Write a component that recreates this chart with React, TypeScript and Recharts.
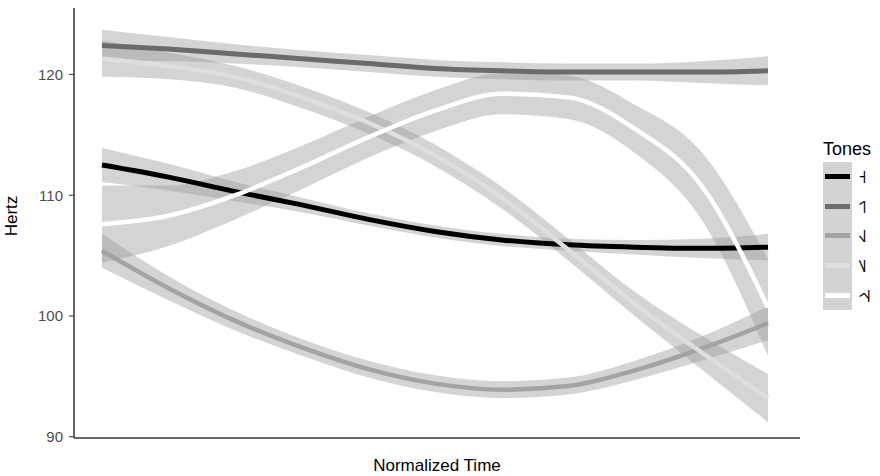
import { ComposedChart, Area, Line, XAxis, YAxis } from "recharts";

// normalized time steps
const TIME = [0, 0.1, 0.2, 0.3, 0.4, 0.5, 0.6, 0.7, 0.8, 0.9, 1];

const TONE_LABELS = ["˧", "˦˥", "˧˩", "˥˩", "˧˦˨"];
const TONE_COLORS = ["#000000", "#6b6b6b", "#a3a3a3", "#dedede", "#ffffff"];

// smoothed means (Hz) and half-widths of the confidence band
const TONE1 = [112.5, 111.5, 110.3, 109.2, 108.0, 107.0, 106.3, 105.9, 105.7, 105.6, 105.7];
const TONE1_SE = [1.4, 1.1, 0.8, 0.6, 0.5, 0.5, 0.5, 0.5, 0.6, 0.8, 1.1];
const TONE2 = [122.4, 122.1, 121.7, 121.3, 120.9, 120.5, 120.3, 120.2, 120.2, 120.2, 120.3];
const TONE2_SE = [1.3, 1.0, 0.8, 0.7, 0.7, 0.7, 0.7, 0.7, 0.7, 0.9, 1.2];
const TONE3 = [105.4, 102.3, 99.6, 97.4, 95.6, 94.4, 93.9, 94.2, 95.5, 97.3, 99.4];
const TONE3_SE = [1.4, 1.0, 0.8, 0.7, 0.7, 0.7, 0.7, 0.7, 0.8, 1.0, 1.4];
const TONE4 = [121.3, 120.7, 119.8, 118.1, 116.0, 113.3, 109.8, 105.5, 101.0, 97.0, 93.2];
const TONE4_SE = [1.5, 1.1, 0.9, 0.9, 0.9, 0.9, 0.9, 0.9, 1.0, 1.4, 2.0];
const TONE5 = [107.6, 108.3, 110.0, 112.3, 114.8, 117.0, 118.4, 118.1, 115.5, 110.8, 100.7];
const TONE5_SE = [3.2, 2.5, 2.0, 1.8, 1.7, 1.7, 1.7, 1.8, 2.0, 2.8, 4.0];

const Y_TICKS = [90, 100, 110, 120];

const MEANS = [TONE1, TONE2, TONE3, TONE4, TONE5];
const SES = [TONE1_SE, TONE2_SE, TONE3_SE, TONE4_SE, TONE5_SE];

const data = TIME.map((t, i) => {
  const row: any = { t };
  MEANS.forEach((m, k) => {
    row["m" + k] = m[i];
    row["b" + k] = [m[i] - SES[k][i], m[i] + SES[k][i]];
  });
  return row;
});

const FONT = "'Liberation Sans', Arial, sans-serif";

function ToneLegend() {
  return (
    <div style={{ position: "absolute", left: 823, top: 138, fontFamily: FONT, color: "#000" }}>
      <div style={{ fontSize: 18, height: 24, lineHeight: "22px" }}>Tones</div>
      <div style={{ position: "relative" }}>
        <div style={{ position: "absolute", left: 0, top: 0, width: 29, height: 148, background: "#d3d3d3" }} />
        {TONE_LABELS.map((label, k) => (
          <div key={label} style={{ position: "relative", height: 29.6, display: "flex", alignItems: "center" }}>
            <div style={{ width: 25, height: 5, marginLeft: 2, background: TONE_COLORS[k] }} />
            <span style={{ marginLeft: 8, fontSize: 18, color: "#000", fontFamily: "'DejaVu Sans', sans-serif" }}>{label}</span>
          </div>
        ))}
      </div>
    </div>
  );
}

export default function App() {
  return (
    <div style={{ position: "absolute", left: 0, top: 0, width: 880, height: 476, background: "#fff" }}>
      <ComposedChart width={880} height={476} data={data} margin={{ top: 8, right: 80, bottom: 0, left: 0 }}>
        <XAxis
          type="number"
          dataKey="t"
          domain={[-0.042, 1.048]}
          tick={false}
          tickLine={false}
          axisLine={{ stroke: "#333", strokeWidth: 1.5 }}
          height={38}
          label={{
            content: (props: any) => {
              const vb = props.viewBox;
              return (
                <text x={vb.x + vb.width / 2} y={vb.y + 33} textAnchor="middle" fontSize={17} fontFamily={FONT} fill="#000">
                  Normalized Time
                </text>
              );
            },
          }}
        />
        <YAxis
          type="number"
          domain={[89.9, 125.5]}
          ticks={Y_TICKS}
          width={74}
          tickSize={5}
          tickMargin={6}
          tick={{ fontSize: 15, fill: "#4d4d4d", fontFamily: FONT }}
          tickLine={{ stroke: "#333" }}
          axisLine={{ stroke: "#333", strokeWidth: 1.5 }}
          label={{
            content: () => (
              <text x={17} y={216} transform="rotate(-90 17 216)" textAnchor="middle" fontSize={17} fontFamily={FONT} fill="#000">
                Hertz
              </text>
            ),
          }}
        />
        {TONE_LABELS.flatMap((label, k) => [
          <Area
            key={"b" + k}
            dataKey={"b" + k}
            type="monotone"
            stroke="none"
            fill="#999999"
            fillOpacity={0.42}
            isAnimationActive={false}
            legendType="none"
          />,
          <Line
            key={"m" + k}
            dataKey={"m" + k}
            name={label}
            type="monotone"
            stroke={TONE_COLORS[k]}
            strokeWidth={k < 2 ? 5 : 4.5}
            dot={false}
            activeDot={false}
            isAnimationActive={false}
          />,
        ])}
      </ComposedChart>
      <ToneLegend />
    </div>
  );
}
